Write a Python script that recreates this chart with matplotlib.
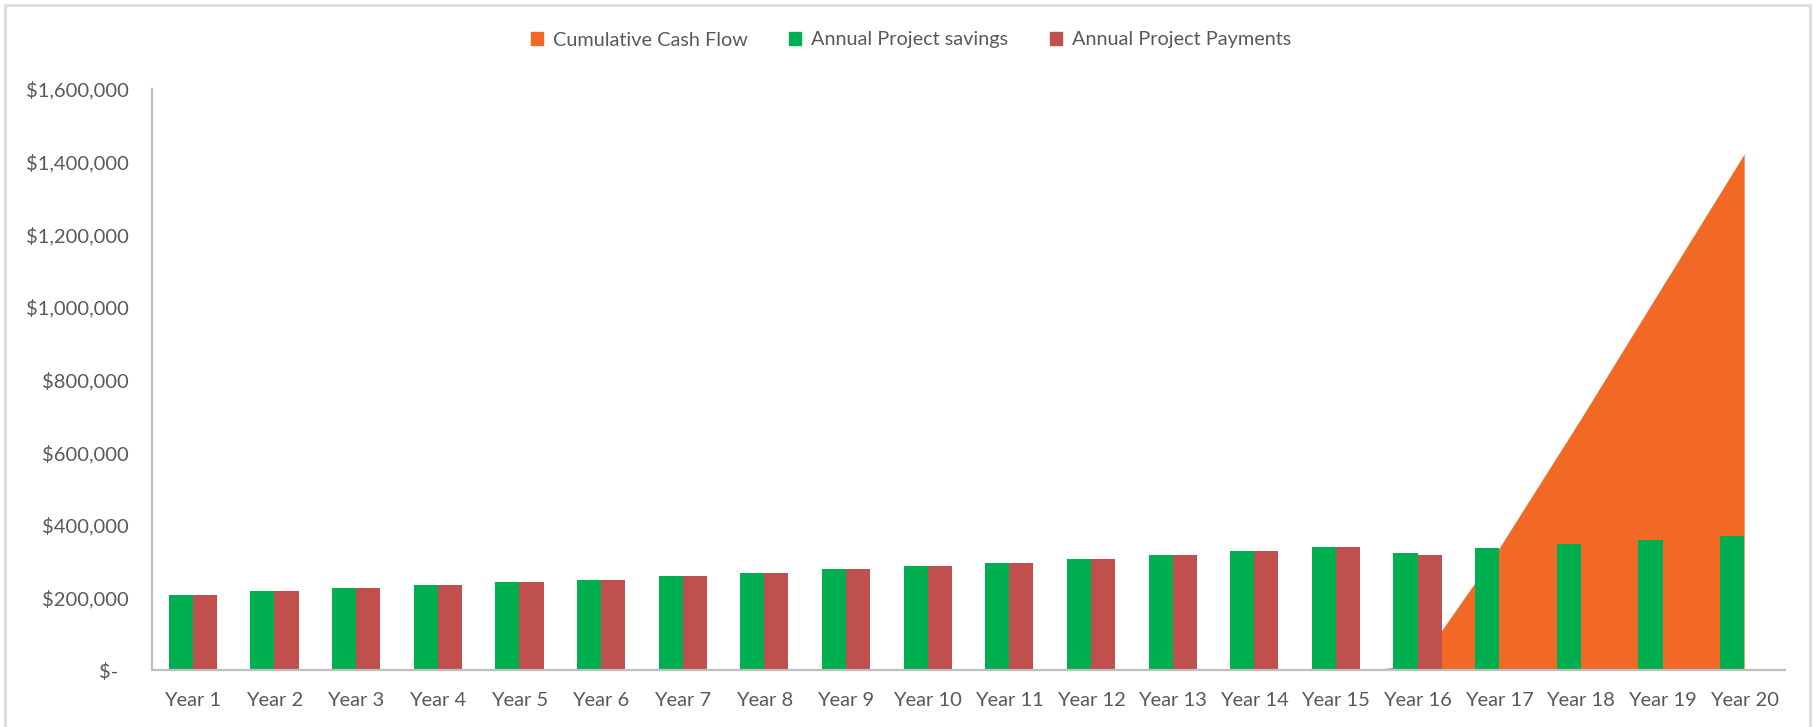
import matplotlib.pyplot as plt
import matplotlib.patches as mpatches
from matplotlib.ticker import FuncFormatter
import numpy as np

plt.rcParams['font.family'] = ['Lato', 'DejaVu Sans']

#chart data
years = ['Year %d' % i for i in range(1, 21)]
savings = [207000, 217000, 226000, 233000, 242000, 249000, 258000, 268000, 277000, 287000,
           296000, 306000, 316000, 328000, 338000, 322000, 335000, 347000, 357000, 370000]
payments = [207000, 217000, 226000, 233000, 242000, 249000, 258000, 268000, 277000, 287000,
            296000, 306000, 316000, 328000, 338000, 316000, 0, 0, 0, 0]
cumulative = [-10000, -10000, -10000, -10000, -10000, -10000, -10000, -10000, -10000, -10000,
              -10000, -10000, -10000, -10000, -10000, 14000, 336000, 692000, 1057000, 1421000]

orange = '#F26926'
green = '#00B050'
red = '#C0504D'
gray_text = '#595959'
axis_gray = '#BFBFBF'

fig = plt.figure(figsize=(18.15, 7.27), dpi=100)
ax = fig.add_axes([152 / 1815, 57 / 727, (1785 - 152) / 1815, (670 - 89) / 727])

x = np.arange(len(years))
w = 0.295

#area first so the bars sit on top
ax.fill_between(x, cumulative, 0, color=orange, linewidth=0, zorder=1)
ax.bar(x - w / 2, savings, w, color=green, zorder=2)
ax.bar(x + w / 2, payments, w, color=red, zorder=2)

ax.set_xlim(-0.5, len(years) - 0.5)
ax.set_ylim(0, 1600000)
ax.set_yticks(np.arange(0, 1600001, 200000))
ax.yaxis.set_major_formatter(FuncFormatter(lambda v, p: '$-  ' if v == 0 else '${:,.0f}'.format(v)))
ax.set_xticks(x)
ax.set_xticklabels(years)
ax.tick_params(axis='both', length=0, labelsize=14.5, labelcolor=gray_text)
ax.tick_params(axis='y', pad=17)
ax.tick_params(axis='x', pad=16)

for s in ['top', 'right']:
    ax.spines[s].set_visible(False)
for s in ['left', 'bottom']:
    ax.spines[s].set_color(axis_gray)
    ax.spines[s].set_linewidth(1.6)

#legend on top
handles = [mpatches.Patch(color=orange, label='Cumulative Cash Flow'),
           mpatches.Patch(color=green, label='Annual Project savings'),
           mpatches.Patch(color=red, label='Annual Project Payments')]
leg = fig.legend(handles=handles, loc='center', bbox_to_anchor=(911 / 1815, 1 - 40 / 727),
                 ncol=3, frameon=False, fontsize=14.3, handlelength=0.6, handleheight=0.6,
                 handletextpad=0.5, columnspacing=2.1)
for t in leg.get_texts():
    t.set_color(gray_text)

#outer chart border
fig.patches.append(mpatches.Rectangle((5 / 1815, -0.1), 1805 / 1815, 1.1 - 5 / 727,
                                      transform=fig.transFigure, fill=False,
                                      edgecolor='#D9D9D9', linewidth=1.8))

fig.savefig('out.png', dpi=100)
